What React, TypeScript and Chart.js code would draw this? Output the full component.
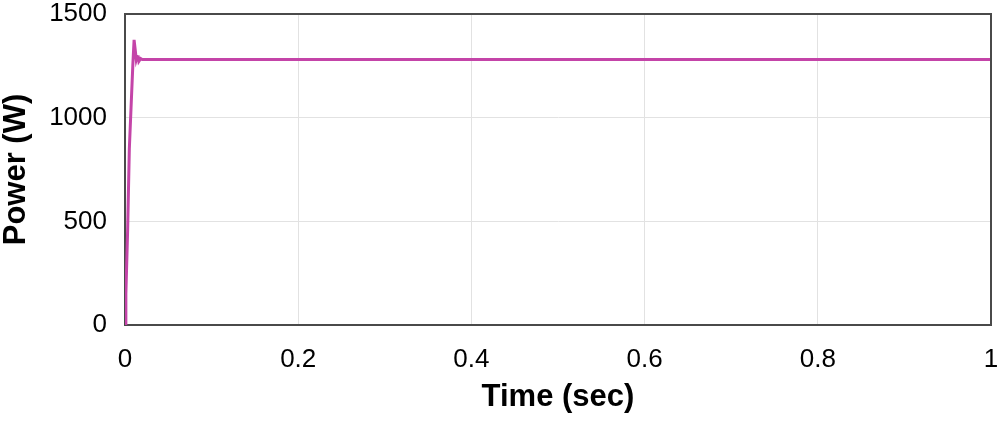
import React, { useEffect, useRef } from "react";
import { Chart, registerables } from "chart.js";

Chart.register(...registerables);

const timeSec = [0, 0.001, 0.003, 0.005, 0.007, 0.009, 0.0105, 0.012, 0.013, 0.014, 0.015, 0.016, 0.018, 0.02, 0.03, 0.2, 0.4, 0.6, 0.8, 1];
const powerW = [0, 150, 450, 850, 1050, 1250, 1375, 1320, 1280, 1295, 1300, 1272, 1285, 1280, 1280, 1280, 1280, 1280, 1280, 1280];
const xTicks = [0, 0.2, 0.4, 0.6, 0.8, 1];
const yTicks = [0, 500, 1000, 1500];

export default function App() {
  const ref = useRef<HTMLCanvasElement | null>(null);
  useEffect(() => {
    document.body.style.margin = "0";
    const ctx = ref.current!;
    const chart = new Chart(ctx, {
      type: "line",
      data: {
        datasets: [
          {
            data: timeSec.map((t, i) => ({ x: t, y: powerW[i] })),
            borderColor: "#c444a8",
            borderWidth: 3,
            pointRadius: 0,
            tension: 0,
          },
        ],
      },
      options: {
        animation: false,
        responsive: false,
        maintainAspectRatio: false,
        layout: { padding: { left: 0, right: 9, top: 14, bottom: 0 } },
        plugins: { legend: { display: false }, tooltip: { enabled: false } },
        scales: {
          x: {
            type: "linear",
            min: 0,
            max: 1,
            afterBuildTicks: (axis: any) => {
              axis.ticks = xTicks.map((v) => ({ value: v }));
            },
            afterFit: (axis: any) => {
              axis.height = 101;
              axis.paddingLeft = 0;
              axis.paddingRight = 0;
            },
            ticks: {
              color: "#000",
              font: { family: "Liberation Sans", size: 26, lineHeight: 1 },
              padding: 22,
              maxRotation: 0,
              callback: (v: any) => String(v),
            },
            grid: { color: "#e2e2e2", lineWidth: 1, drawTicks: false },
            border: { color: "#4a4a4a", width: 2 },
            title: {
              display: true,
              text: "Time (sec)",
              color: "#000",
              font: { family: "Liberation Sans", size: 31, weight: "bold", lineHeight: 1 },
              padding: { top: 0, bottom: 13 },
            },
          },
          y: {
            type: "linear",
            min: 0,
            max: 1500,
            afterBuildTicks: (axis: any) => {
              axis.ticks = yTicks.map((v) => ({ value: v }));
            },
            afterFit: (axis: any) => {
              axis.width = 125;
              axis.paddingTop = 0;
              axis.paddingBottom = 0;
            },
            ticks: {
              color: "#000",
              font: { family: "Liberation Sans", size: 26, lineHeight: 1 },
              padding: 18,
              callback: (v: any) => String(v),
            },
            grid: { color: "#e2e2e2", lineWidth: 1, drawTicks: false },
            border: { color: "#4a4a4a", width: 2 },
            title: {
              display: true,
              text: "Power (W)",
              color: "#000",
              font: { family: "Liberation Sans", size: 31, weight: "bold", lineHeight: 1 },
              padding: { top: 1, bottom: 0 },
            },
          },
        },
      },
      plugins: [
        {
          id: "frame",
          afterDraw: (c: any) => {
            const { left, right, top, bottom } = c.chartArea;
            const g = c.ctx;
            g.save();
            g.strokeStyle = "#4a4a4a";
            g.lineWidth = 2;
            g.beginPath();
            g.moveTo(left, top);
            g.lineTo(right, top);
            g.lineTo(right, bottom);
            g.stroke();
            g.restore();
          },
        },
      ],
    });
    return () => chart.destroy();
  }, []);
  return (
    <div style={{ position: "absolute", left: 0, top: 0, width: 1000, height: 426 }}>
      <canvas ref={ref} width={1000} height={426} style={{ width: 1000, height: 426 }} />
    </div>
  );
}
